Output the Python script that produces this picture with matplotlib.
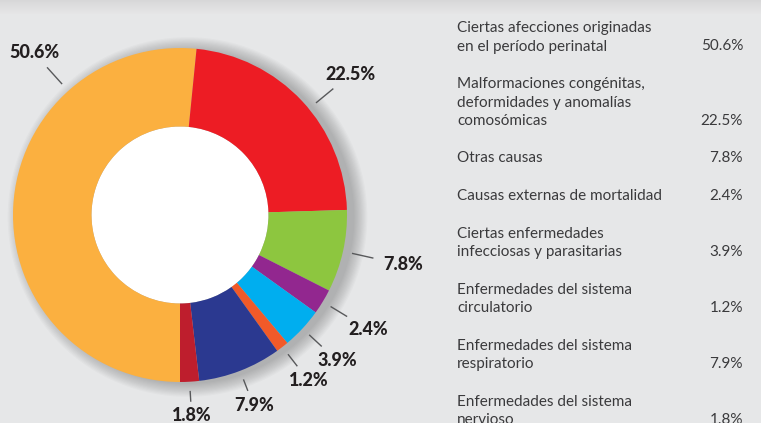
import numpy as np
import matplotlib
matplotlib.use("Agg")
import matplotlib.pyplot as plt
from matplotlib.patches import Circle

# ---------------- data ----------------
categories = [
    "Ciertas afecciones originadas\nen el período perinatal",
    "Malformaciones congénitas,\ndeformidades y anomalías\ncomosómicas",
    "Otras causas",
    "Causas externas de mortalidad",
    "Ciertas enfermedades\ninfecciosas y parasitarias",
    "Enfermedades del sistema\ncirculatorio",
    "Enfermedades del sistema\nrespiratorio",
    "Enfermedades del sistema\nnervioso",
]
values = [50.6, 22.5, 7.8, 2.4, 3.9, 1.2, 7.9, 1.8]
value_labels = ["50.6%", "22.5%", "7.8%", "2.4%", "3.9%", "1.2%", "7.9%", "1.8%"]
colors = ["#fbb040", "#ed1c24", "#8dc63f", "#92278f", "#00aeef", "#f15a29", "#2b3990", "#be1e2d"]

# label angle overrides (degrees) for slices whose label is not at the mid angle
label_angle_override = {0: 132.0, 1: 39.5}

BG = "#e6e7e8"
TXT = "#231f20"

W, H, DPI = 761, 423, 100
fig = plt.figure(figsize=(W / DPI, H / DPI), dpi=DPI)
fig.patch.set_facecolor(BG)

# top shadow band
band = fig.add_axes([0, 1 - 14 / H, 1, 14 / H])
grad = np.linspace(0.845, 0.903, 50).reshape(-1, 1)
band.imshow(np.dstack([grad, grad, grad + 0.004]), aspect="auto", extent=[0, 1, 0, 1], origin="upper")
band.axis("off")

ax = fig.add_axes([0, 0, 1, 1])
ax.set_facecolor("none")
R_PX = 167.0
cx, cy = 180.0, 215.0
ax.axis("off")

# soft shadow (to the right)
for i in range(12):
    r = 1.0 + 0.007 * i
    ax.add_patch(Circle((0.045, -0.012), r, color="#000000", alpha=0.02, lw=0, zorder=0))

wedges, _ = ax.pie(values, colors=colors, startangle=270, counterclock=False,
                   radius=1.0, wedgeprops=dict(width=0.47, linewidth=0),
                   normalize=True, frame=False)
ax.set_aspect("auto")
ax.set_xlim(-cx / R_PX, (W - cx) / R_PX)
ax.set_ylim(-(H - cy) / R_PX, cy / R_PX)
for w in wedges:
    w.set_zorder(2)
ax.add_patch(Circle((0, 0), 0.53, color="white", lw=0, zorder=1.5))

fig.canvas.draw()
renderer = fig.canvas.get_renderer()
for i, w in enumerate(wedges):
    ang = (w.theta1 + w.theta2) / 2.0
    ang = label_angle_override.get(i, ang)
    a = np.deg2rad(ang)
    c, s = abs(np.cos(a)), abs(np.sin(a))
    down = max(0.0, -np.sin(a))
    r0 = 1.055
    r1 = 1.19 - 0.07 * down ** 2
    ax.plot([r0 * np.cos(a), r1 * np.cos(a)], [r0 * np.sin(a), r1 * np.sin(a)],
            color="#58595b", lw=1.0, zorder=3, solid_capstyle="butt")
    t = ax.text(0, 0, value_labels[i], ha="center", va="center",
                fontsize=13, fontweight="black", family="Lato", color=TXT, zorder=3)
    bb = t.get_window_extent(renderer)
    hw, hh = bb.width / 2.0, 8.0
    gap_px = 6.0 + 4.0 * c
    exit_d = min(hw / c if c > 1e-6 else 1e9, hh / s if s > 1e-6 else 1e9)
    d = (exit_d + gap_px) / R_PX
    t.set_position(((r1 + d) * np.cos(a), (r1 + d) * np.sin(a)))

# legend list on the right
x_left = 457 / W
x_right = 743 / W
y = 28.0
line_h = 18.5
gap = 37.5
for cat, lab in zip(categories, value_labels):
    lines = cat.split("\n")
    for j, ln in enumerate(lines):
        fig.text(x_left, 1 - (y + j * line_h) / H, ln, ha="left", va="center",
                 fontsize=11, family="Lato", color="#3a3a3c")
    ylast = y + (len(lines) - 1) * line_h
    fig.text(x_right, 1 - ylast / H, lab, ha="right", va="center",
             fontsize=11, family="Lato", color="#3a3a3c")
    y = ylast + gap

fig.savefig("out.png", dpi=DPI, facecolor=BG)
